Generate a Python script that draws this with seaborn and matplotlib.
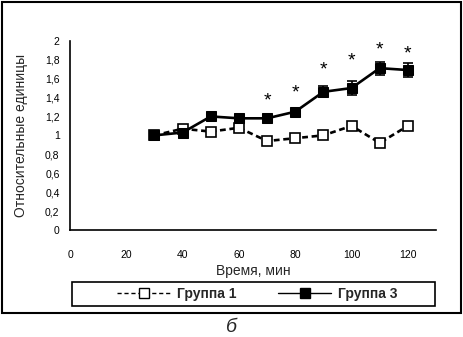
import matplotlib.pyplot as plt
import pandas as pd
import seaborn as sns
from matplotlib.lines import Line2D
from matplotlib.patches import Rectangle


time_min = [30, 40, 50, 60, 70, 80, 90, 100, 110, 120]
group1 = [1.00, 1.07, 1.04, 1.08, 0.94, 0.97, 1.00, 1.10, 0.92, 1.10]
group3 = [1.00, 1.03, 1.20, 1.18, 1.18, 1.25, 1.46, 1.50, 1.71, 1.69]
group3_err = [0.02, 0.02, 0.03, 0.03, 0.03, 0.03, 0.06, 0.07, 0.07, 0.07]
star_time = [70, 80, 90, 100, 110, 120]
star_y = [1.36, 1.45, 1.69, 1.79, 1.90, 1.86]

sns.set_theme(style="white")
plt.rcParams["font.family"] = ["Liberation Sans", "DejaVu Sans"]

df = pd.DataFrame({
    "Время": time_min * 2,
    "Значение": group1 + group3,
    "Группа": ["Группа 1"] * len(time_min) + ["Группа 3"] * len(time_min),
})

fig = plt.figure(figsize=(4.63, 3.37), dpi=100)
ax = fig.add_axes([0.1512, 0.3175, 0.7905, 0.5617])

ax.errorbar(time_min, group3, yerr=group3_err, fmt="none",
            ecolor="black", elinewidth=1.2, capsize=3.5, capthick=1.2, zorder=4)

sns.lineplot(
    data=df, x="Время", y="Значение", hue="Группа", style="Группа",
    palette={"Группа 1": "black", "Группа 3": "black"},
    dashes={"Группа 1": (2.2, 1.4), "Группа 3": ""},
    markers={"Группа 1": "s", "Группа 3": "s"},
    linewidth=1.9, markersize=7, legend=False, ax=ax, zorder=3,
)
# Группа 1 - пустые квадраты, Группа 3 - залитые
ax.lines[-2].set_markerfacecolor("white")
ax.lines[-2].set_markeredgecolor("black")
ax.lines[-2].set_markeredgewidth(1.2)
ax.lines[-1].set_markerfacecolor("black")
ax.lines[-1].set_markeredgecolor("black")

for t, y in zip(star_time, star_y):
    ax.text(t, y, "*", ha="center", va="center", fontsize=14, color="black")

ax.set_xlim(0, 130)
ax.set_ylim(0, 2)
ax.set_xticks([0, 20, 40, 60, 80, 100, 120])
ax.set_yticks([0, 0.2, 0.4, 0.6, 0.8, 1.0, 1.2, 1.4, 1.6, 1.8, 2.0])
ax.set_yticklabels(["0", "0,2", "0,4", "0,6", "0,8", "1", "1,2", "1,4", "1,6", "1,8", "2"])
ax.tick_params(axis="both", direction="inout", length=3, width=0.8,
               labelsize=7.5, colors="black")
ax.tick_params(axis="y", pad=6)
ax.tick_params(axis="x", pad=13)
sns.despine(ax=ax)
for side in ["left", "bottom"]:
    ax.spines[side].set_color("black")
    ax.spines[side].set_linewidth(1.2)

ax.set_xlabel("Время, мин", fontsize=10, labelpad=3)
ax.set_ylabel("Относительные единицы", fontsize=10, labelpad=12)

handles = [
    Line2D([], [], color="black", linestyle=(0, (3, 2)), linewidth=1.0,
           marker="s", markersize=7, markerfacecolor="white",
           markeredgecolor="black"),
    Line2D([], [], color="black", linestyle="-", linewidth=1.0,
           marker="s", markersize=7, markerfacecolor="black"),
]
fig.legend(
    handles, ["Группа 1", "Группа 3"], ncol=2,
    loc="center", bbox_to_anchor=(0.556, 0.1275),
    frameon=False, handlelength=3.8, handletextpad=0.5, columnspacing=3.0,
    prop={"weight": "bold", "size": 10},
)
fig.patches.append(Rectangle((0.1555, 0.092), 0.784, 0.071, transform=fig.transFigure,
                             fill=False, edgecolor="black", linewidth=1.2))

fig.patches.append(Rectangle((0.005, 0.071), 0.99, 0.924, transform=fig.transFigure,
                             fill=False, edgecolor="black", linewidth=1.5))
fig.text(0.5, 0.027, "б", ha="center", va="center", fontsize=14, style="italic")

plt.savefig("out.png", dpi=100)
